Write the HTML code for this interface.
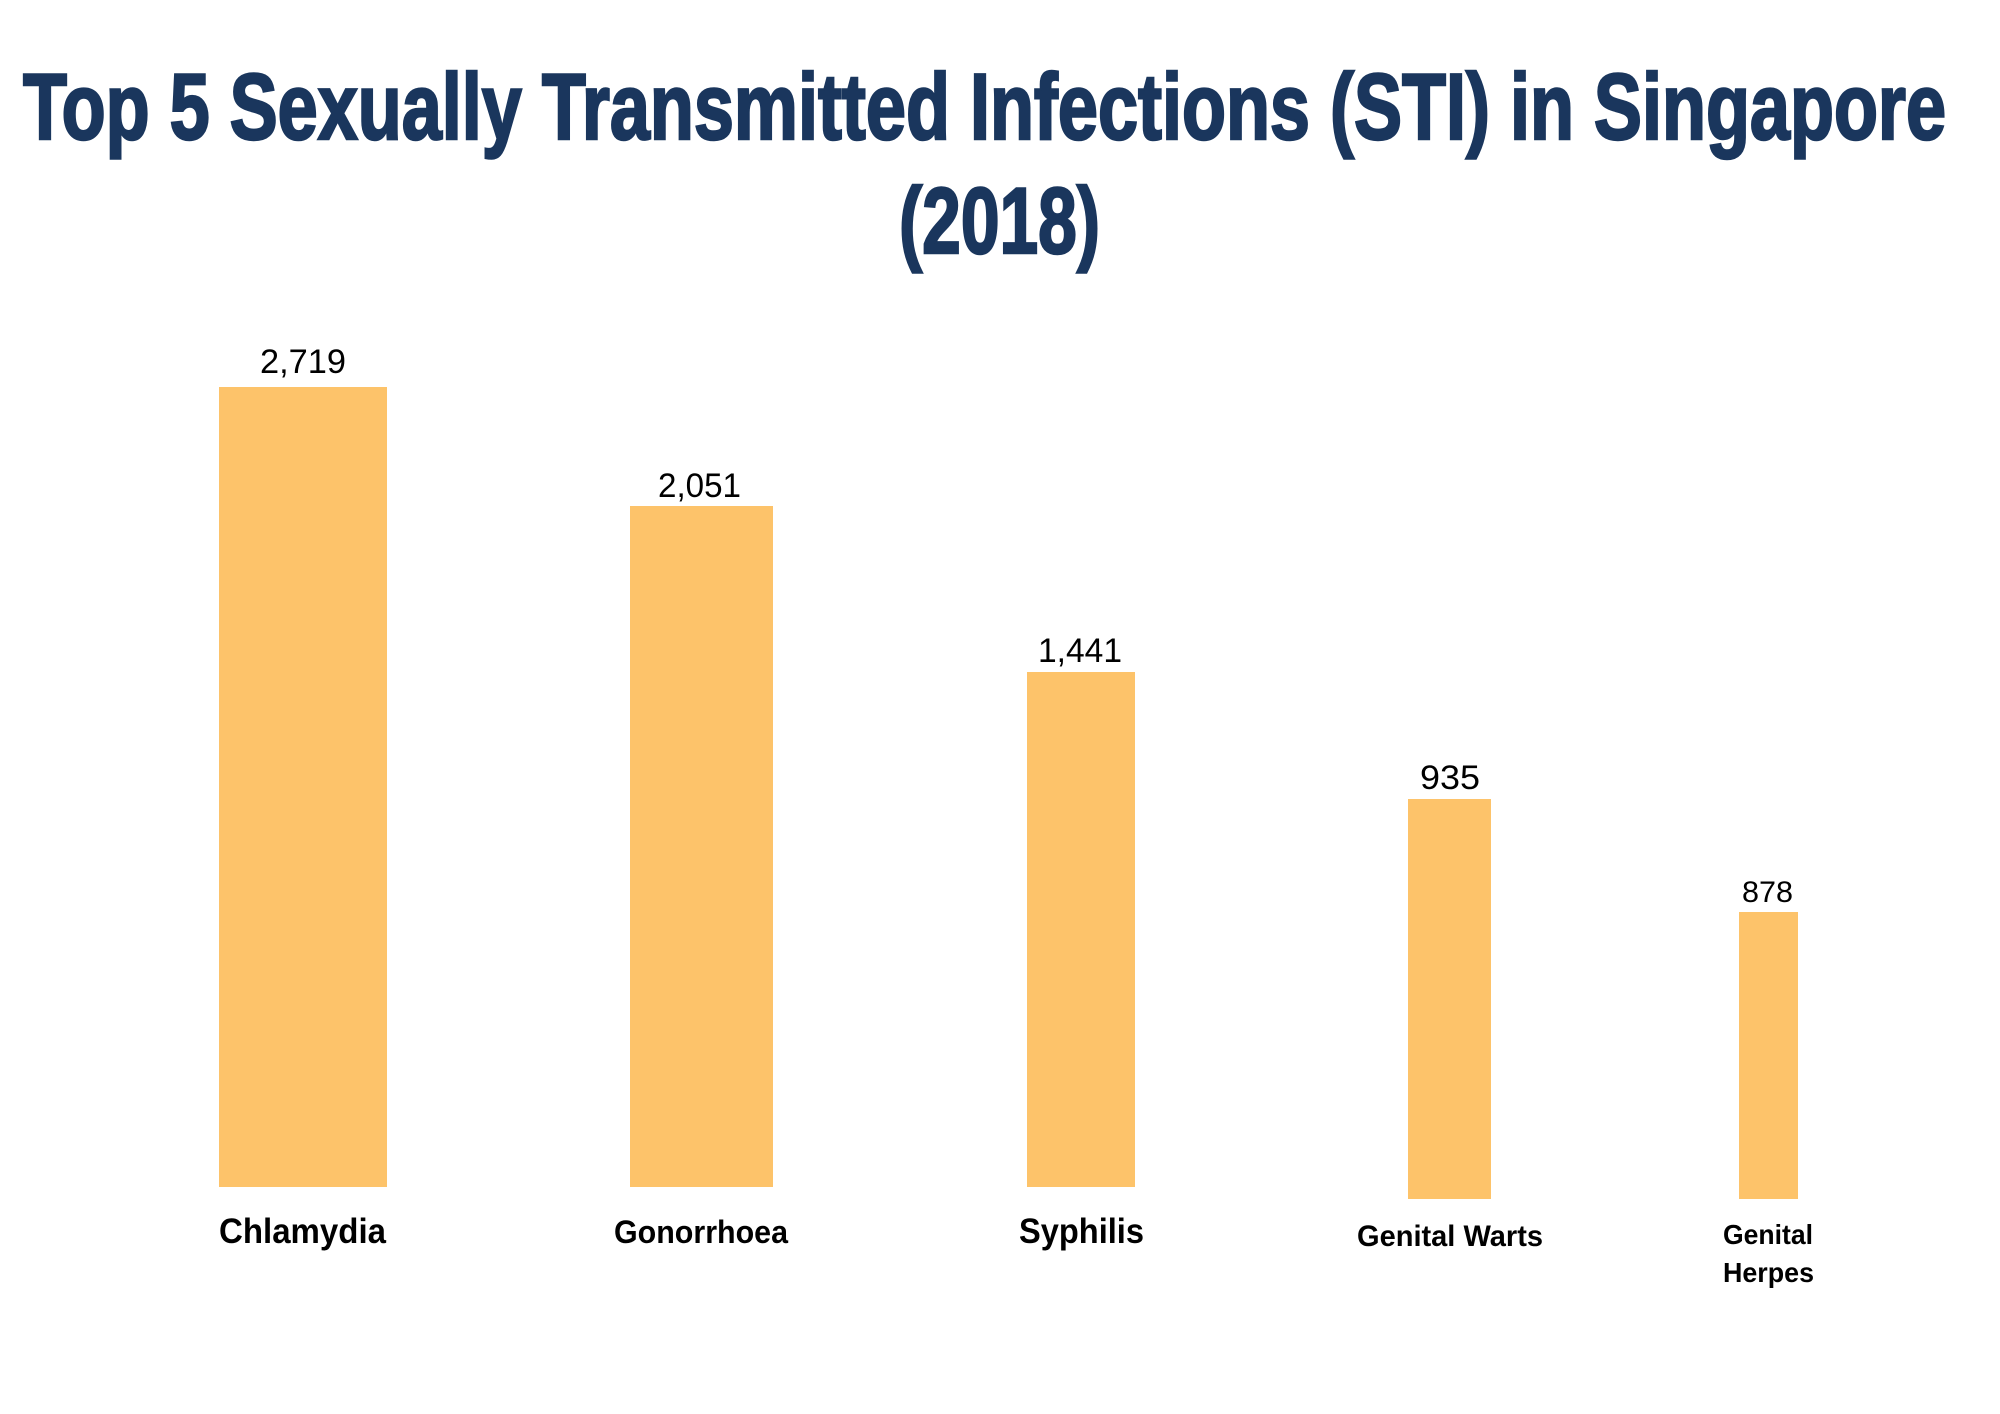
<!DOCTYPE html>
<html><head><meta charset="utf-8"><style>
html,body{margin:0;padding:0;background:#fff;width:2000px;height:1414px;overflow:hidden}
svg{display:block}
</style></head><body>
<svg width="2000" height="1414" viewBox="0 0 2000 1414" xmlns="http://www.w3.org/2000/svg">
<rect width="2000" height="1414" fill="#fff"/>
<g font-family="Liberation Sans, sans-serif" font-weight="bold" fill="#1a365d" stroke="#1a365d" stroke-width="2.5" font-size="94">
<text x="23" y="139" textLength="1923" lengthAdjust="spacingAndGlyphs">Top 5 Sexually Transmitted Infections (STI) in Singapore</text>
<text x="899" y="253" textLength="201" lengthAdjust="spacingAndGlyphs">(2018)</text>
</g>
<g fill="#fdc36a">
<rect x="219" y="387" width="168" height="800"/>
<rect x="630" y="506" width="143" height="681"/>
<rect x="1027" y="672" width="108" height="515"/>
<rect x="1408" y="799" width="83" height="400"/>
<rect x="1739" y="912" width="59" height="287"/>
</g>
<g font-family="Liberation Sans, sans-serif" fill="#000" font-size="34">
<text x="260" y="373" textLength="86" lengthAdjust="spacingAndGlyphs">2,719</text>
<text x="658" y="497" textLength="83" lengthAdjust="spacingAndGlyphs">2,051</text>
<text x="1038" y="662" textLength="84" lengthAdjust="spacingAndGlyphs">1,441</text>
<text x="1420" y="789" textLength="60" lengthAdjust="spacingAndGlyphs">935</text>
<text x="1742" y="902" font-size="30" textLength="51" lengthAdjust="spacingAndGlyphs">878</text>
</g>
<g font-family="Liberation Sans, sans-serif" font-weight="bold" fill="#000">
<text x="219" y="1243" font-size="35" textLength="167" lengthAdjust="spacingAndGlyphs">Chlamydia</text>
<text x="614" y="1243" font-size="32" textLength="174" lengthAdjust="spacingAndGlyphs">Gonorrhoea</text>
<text x="1019" y="1243" font-size="35" textLength="125" lengthAdjust="spacingAndGlyphs">Syphilis</text>
<text x="1357" y="1246" font-size="30" textLength="186" lengthAdjust="spacingAndGlyphs">Genital Warts</text>
<text x="1723" y="1244" font-size="28" textLength="90" lengthAdjust="spacingAndGlyphs">Genital</text>
<text x="1723" y="1282" font-size="28" textLength="91" lengthAdjust="spacingAndGlyphs">Herpes</text>
</g>
</svg>
</body></html>
